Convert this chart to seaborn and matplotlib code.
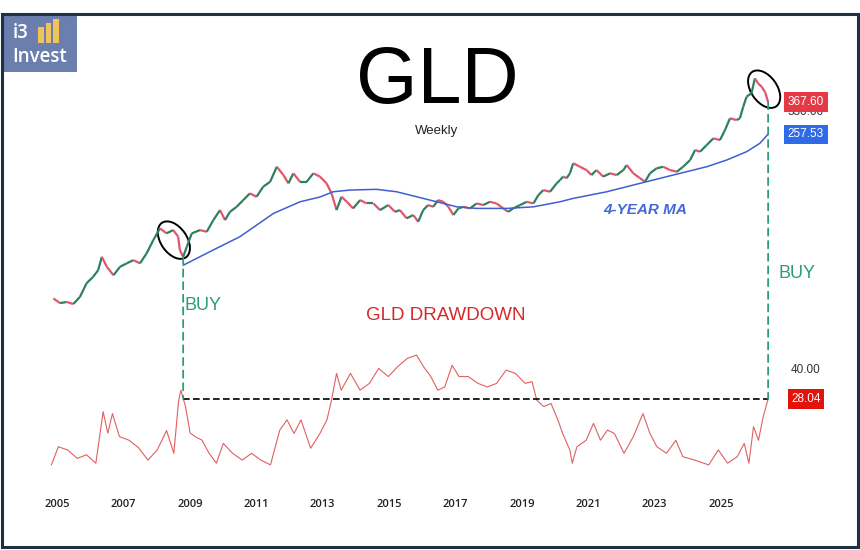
import numpy as np
import matplotlib.pyplot as plt
import seaborn as sns
from matplotlib.patches import Ellipse, Rectangle, ConnectionPatch
from matplotlib.collections import LineCollection
from matplotlib.transforms import ScaledTranslation

# ---- values ----
price_years = [2004.89, 2005.09, 2005.29, 2005.49, 2005.69, 2005.89, 2006.09, 2006.24, 2006.35, 2006.50,
               2006.70, 2006.90, 2007.10, 2007.30, 2007.50, 2007.70, 2007.90, 2008.10, 2008.30, 2008.50,
               2008.65, 2008.70, 2008.80, 2008.91, 2009.06, 2009.31, 2009.51, 2009.71, 2009.91, 2010.06,
               2010.21, 2010.41, 2010.61, 2010.81, 2011.01, 2011.21, 2011.42, 2011.62, 2011.82, 2011.97,
               2012.12, 2012.32, 2012.52, 2012.72, 2012.92, 2013.12, 2013.27, 2013.42, 2013.57, 2013.73,
               2013.92, 2014.13, 2014.33, 2014.53, 2014.73, 2014.98, 2015.18, 2015.33, 2015.53, 2015.73,
               2015.88, 2016.03, 2016.18, 2016.33, 2016.48, 2016.64, 2016.79, 2016.94, 2017.09, 2017.24,
               2017.44, 2017.64, 2017.84, 2018.04, 2018.24, 2018.44, 2018.59, 2018.74, 2018.95, 2019.15,
               2019.35, 2019.50, 2019.65, 2019.85, 2020.05, 2020.15, 2020.25, 2020.35, 2020.45, 2020.55,
               2020.75, 2020.95, 2021.10, 2021.25, 2021.45, 2021.66, 2021.86, 2022.06, 2022.16, 2022.36,
               2022.56, 2022.71, 2022.86, 2023.06, 2023.26, 2023.46, 2023.67, 2023.86, 2024.07, 2024.22,
               2024.37, 2024.57, 2024.77, 2024.97, 2025.12, 2025.27, 2025.47, 2025.57, 2025.67, 2025.77,
               2025.92, 2026.02, 2026.12, 2026.23, 2026.33, 2026.42]
price_close = [41.5, 39.4, 39.9, 39.0, 42.2, 49.1, 52.8, 56.8, 65.9, 59.0,
               53.7, 59.0, 61.3, 63.5, 61.3, 68.5, 79.3, 90.4, 85.5, 88.7,
               82.4, 71.0, 65.9, 73.7, 85.5, 88.7, 87.0, 99.1, 110.7, 99.1,
               108.6, 114.8, 123.7, 133.3, 128.4, 143.5, 151.6, 179.2, 163.4, 149.0,
               166.5, 151.6, 151.6, 166.5, 160.6, 149.0, 133.3, 110.7, 128.4, 121.4,
               112.8, 123.7, 119.2, 119.2, 110.7, 117.1, 108.6, 110.7, 101.0, 104.8,
               97.3, 110.7, 117.1, 114.8, 123.7, 121.4, 114.8, 104.8, 112.8, 114.8,
               112.8, 119.2, 117.1, 121.4, 119.2, 112.8, 108.6, 112.8, 117.1, 121.4,
               119.2, 130.8, 138.3, 135.7, 149.0, 154.5, 160.6, 157.8, 166.5, 186.2,
               179.2, 172.7, 163.4, 172.7, 160.6, 166.5, 163.4, 172.7, 182.6, 166.5,
               157.8, 151.6, 166.5, 176.0, 179.2, 172.7, 169.5, 179.2, 193.0, 215.7,
               211.7, 228.0, 245.6, 241.0, 269.3, 306.7, 301.0, 306.7, 349.0, 389.8,
               405.8, 478.0, 452.0, 434.7, 410.0, 367.6]

ma_years = [2008.80, 2009.70, 2010.51, 2011.52, 2012.32, 2012.92, 2013.32, 2013.83, 2014.63, 2015.23,
            2015.83, 2016.44, 2017.04, 2017.64, 2018.55, 2019.35, 2020.15, 2020.55, 2021.56, 2022.56,
            2023.56, 2024.57, 2025.17, 2025.77, 2026.17, 2026.42]
ma_values = [60.0, 71.0, 82.4, 106.7, 121.4, 128.0, 135.7, 138.3, 139.4, 135.7,
             128.4, 121.4, 114.8, 112.8, 112.8, 114.8, 121.4, 126.1, 135.7, 149.0,
             163.4, 179.2, 193.0, 211.7, 232.4, 257.53]

dd_years = [2004.83, 2005.04, 2005.32, 2005.61, 2005.89, 2006.17, 2006.39, 2006.53, 2006.67, 2006.88,
            2007.17, 2007.45, 2007.74, 2008.02, 2008.30, 2008.52, 2008.66, 2008.73, 2008.87, 2009.01,
            2009.16, 2009.37, 2009.58, 2009.80, 2010.01, 2010.29, 2010.58, 2010.86, 2011.14, 2011.43,
            2011.71, 2011.93, 2012.14, 2012.35, 2012.64, 2012.92, 2013.13, 2013.27, 2013.42, 2013.56,
            2013.84, 2014.13, 2014.41, 2014.69, 2014.98, 2015.26, 2015.55, 2015.83, 2016.04, 2016.26,
            2016.47, 2016.68, 2016.90, 2017.11, 2017.39, 2017.68, 2017.96, 2018.24, 2018.53, 2018.81,
            2019.10, 2019.31, 2019.45, 2019.66, 2019.88, 2020.09, 2020.23, 2020.45, 2020.52, 2020.66,
            2020.94, 2021.16, 2021.37, 2021.58, 2021.79, 2022.08, 2022.36, 2022.65, 2022.86, 2023.07,
            2023.36, 2023.64, 2023.85, 2024.21, 2024.63, 2024.92, 2025.20, 2025.49, 2025.70, 2025.84,
            2025.98, 2026.13, 2026.27, 2026.42]
dd_values = [0.8, 8.3, 7.0, 3.5, 5.0, 1.5, 22.8, 13.9, 22.0, 12.5,
             11.0, 8.0, 2.8, 7.0, 15.0, 5.6, 27.0, 31.7, 25.0, 14.0,
             12.5, 11.0, 5.6, 1.5, 9.7, 5.6, 2.8, 5.6, 2.8, 0.8,
             15.2, 19.4, 13.8, 19.4, 7.7, 13.8, 19.4, 27.6, 38.6, 31.7,
             38.6, 31.7, 34.5, 40.7, 37.3, 41.4, 44.8, 46.2, 41.4, 37.3,
             31.7, 33.0, 42.0, 37.3, 37.3, 34.5, 33.0, 34.5, 40.0, 38.6,
             34.5, 35.2, 27.6, 24.9, 26.2, 19.3, 13.8, 6.9, 1.5, 8.3,
             11.0, 18.0, 11.0, 15.2, 13.8, 5.6, 12.5, 22.0, 13.8, 8.3,
             5.6, 11.0, 4.2, 2.8, 0.8, 7.0, 1.5, 4.2, 9.7, 1.5,
             16.6, 11.0, 20.7, 28.04]

tick_years = list(range(2005, 2026, 2))
buy_years = [2008.80, 2026.42]
buy_prices = [65.9, 367.60]
last_price = 367.60
level_330 = 330.00
last_ma = 257.53
level_40 = 40.00
last_dd = 28.04

GREEN = "#2f8063"
RED = "#e0566b"
BLUE = "#3f5fd0"
TEAL = "#2a9d7c"

sns.set_style("white")
plt.rcParams['font.family'] = ['Liberation Sans', 'DejaVu Sans']

W, H = 860, 550
fig = plt.figure(figsize=(W / 100, H / 100), dpi=100)


def px_axes(left, top, right, bottom):
    return fig.add_axes([left / W, 1 - bottom / H, (right - left) / W, (bottom - top) / H])


ax = px_axes(40, 60, 850, 310)
ax2 = px_axes(40, 340, 850, 480)
xlim = (2004.488, 2028.886)

# price: segments coloured by direction, like dense weekly candles
pts = np.column_stack([price_years, price_close])
segs = np.stack([pts[:-1], pts[1:]], axis=1)
up = np.diff(price_close) >= 0
ax.add_collection(LineCollection(segs, colors=np.where(up, GREEN, RED), linewidths=1.6))
sns.lineplot(x=ma_years, y=ma_values, ax=ax, color=BLUE, lw=1.1)
ax.set_yscale('log')
ax.set_xlim(*xlim)
ax.set_ylim(36.5, 586.3)
ax.axis('off')

# drawdown
sns.lineplot(x=dd_years, y=dd_values, ax=ax2, color="#e06060", lw=0.8)
ax2.hlines(last_dd, buy_years[0], buy_years[1], colors='black', linestyles=(0, (4, 2)), lw=1.2)
ax2.set_xlim(*xlim)
ax2.set_ylim(-5.43, 52.42)
ax2.set_yticks([])
ax2.set_xticks(tick_years)
ax2.set_xticklabels([str(y) for y in tick_years], family='Open Sans', fontweight='semibold',
                    fontsize=8, color='#222222')
ax2.tick_params(axis='x', length=0, pad=14)
sns.despine(ax=ax2, left=True, bottom=True)

# BUY verticals
for yr, p in zip(buy_years, buy_prices):
    con = ConnectionPatch(xyA=(yr, p), coordsA=ax.transData, xyB=(yr, last_dd), coordsB=ax2.transData,
                          color=TEAL, linestyle=(0, (4, 3)), lw=1.3)
    fig.add_artist(con)

# circled tops
for cx, cy in [(2008.52, 79.3), (2026.30, 424.0)]:
    t = fig.dpi_scale_trans + ScaledTranslation(cx, cy, ax.transData)
    ax.add_patch(Ellipse((0, 0), 0.26, 0.42, angle=35, fill=False, ec='black', lw=1.4,
                         transform=t, clip_on=False))

# right-hand value labels
lx = 2027.56
ax.text(lx, level_330, f"{level_330:.2f}", ha='center', va='center', fontsize=8.5, color='#333333', zorder=3)
ax.text(lx, last_price, f"{last_price:.2f}", ha='center', va='center', fontsize=8.5, color='white', zorder=4,
        bbox=dict(boxstyle='square,pad=0.3', fc='#e63946', ec='none'))
ax.text(lx, last_ma, f"{last_ma:.2f}", ha='center', va='center', fontsize=8.5, color='white', zorder=4,
        bbox=dict(boxstyle='square,pad=0.3', fc='#2f6ae8', ec='none'))
ax2.text(lx, level_40, f"{level_40:.2f}", ha='center', va='center', fontsize=8.5, color='#333333')
ax2.text(lx, last_dd, f"{last_dd:.2f}", ha='center', va='center', fontsize=8.5, color='white',
         bbox=dict(boxstyle='square,pad=0.3', fc='#e3120b', ec='none'))

# titles and notes
fig.text(437 / W, 1 - 82 / H, "GLD", ha='center', va='center', fontsize=57, color='black')
fig.text(437 / W, 1 - 131 / H, "Weekly", ha='center', va='center', fontsize=9.5, color='#222222')
fig.text(446 / W, 1 - 316 / H, "GLD DRAWDOWN", ha='center', va='center', fontsize=13.5, color='#d42a2a')
fig.text(645 / W, 1 - 210 / H, "4-YEAR MA", ha='center', va='center', fontsize=11, color='#4169d8',
         fontweight='bold', fontstyle='italic')
fig.text(185 / W, 1 - 305 / H, "BUY", ha='left', va='center', fontsize=13, color=TEAL)
fig.text(778 / W, 1 - 273 / H, "BUY", ha='left', va='center', fontsize=13, color=TEAL)

# logo
fig.add_artist(Rectangle((3 / W, 1 - 72 / H), 74 / W, 58 / H, transform=fig.transFigure,
                         fc='#6b7fae', ec='none'))
for bx, btop in [(38, 27), (45.5, 23), (53, 19)]:
    fig.add_artist(Rectangle((bx / W, 1 - 43 / H), 5.5 / W, (43 - btop) / H, transform=fig.transFigure,
                             fc='#f0c45a', ec='none'))
fig.text(13 / W, 1 - 33 / H, "i3", ha='left', va='center', fontsize=13.5, color='white', family='Open Sans',
         fontweight='semibold')
fig.text(12 / W, 1 - 57 / H, "Invest", ha='left', va='center', fontsize=13.5, color='white', family='Open Sans',
         fontweight='semibold')

# frame
fig.add_artist(Rectangle((1.5 / W, 3 / H), 856 / W, (H - 17) / H, transform=fig.transFigure,
                         fill=False, ec='#1f3044', lw=2.2))

fig.savefig('out.png', dpi=100)
